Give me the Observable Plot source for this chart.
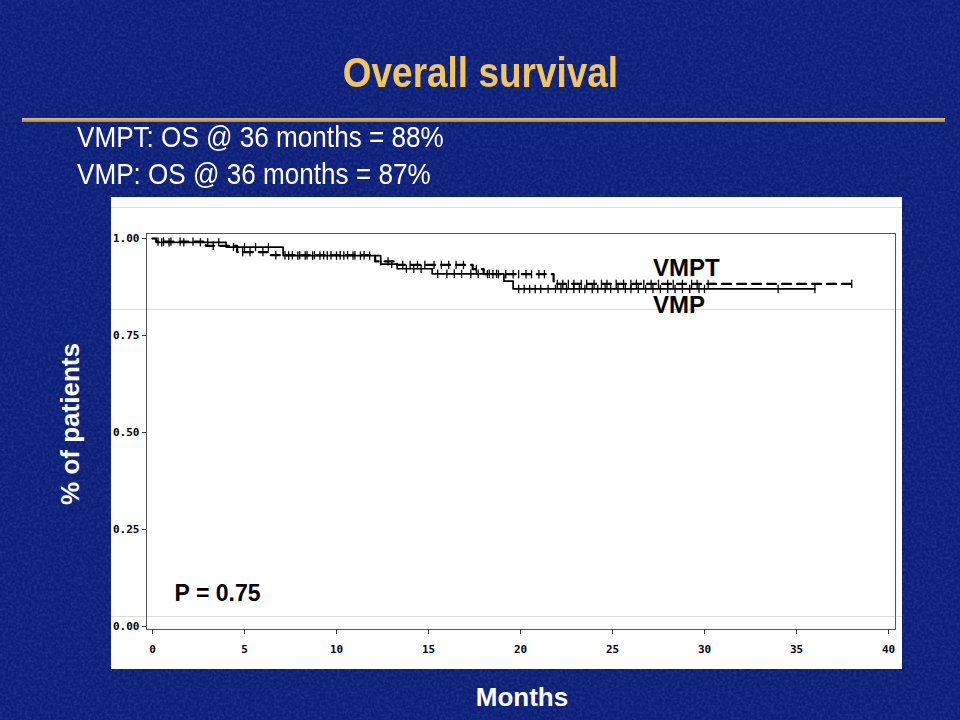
<!DOCTYPE html>
<html>
<head>
<meta charset="utf-8">
<script src="https://cdn.jsdelivr.net/npm/d3@7"></script>
<script src="https://cdn.jsdelivr.net/npm/@observablehq/plot@0.6"></script>
<style>
  html, body { margin: 0; padding: 0; }
  #page { position: relative; width: 960px; height: 720px; background: #0b1e78; overflow: hidden;
          font-family: "Liberation Sans", Arial, sans-serif; }
  #texture { position: absolute; left: 0; top: 0; width: 960px; height: 720px; }
  #title { position: absolute; left: 0; top: 52px; width: 960px; text-align: center; color: #f2c55e;
           font-size: 42px; font-weight: bold; line-height: 1; }
  #title span { display: inline-block; transform: scaleX(0.88); }
  #rule { position: absolute; left: 22px; top: 118px; width: 923px; height: 4px;
          background: linear-gradient(#e3c27a, #a8843c); }
  .sub { position: absolute; left: 77px; color: white; font-size: 29px; line-height: 1;
         transform: scaleX(0.9); transform-origin: left center; white-space: nowrap; }
  #panel { position: absolute; left: 111px; top: 197px; width: 791px; height: 472px; background: white; }
  .gline { position: absolute; left: 0; width: 791px; height: 1px; background: #dcdcdc; }
  #chart { position: absolute; left: 0; top: 0; }
  #ylab { position: absolute; left: 70px; top: 424px; color: white; font-size: 26px; font-weight: bold;
          line-height: 1; white-space: nowrap; transform: translate(-50%, -50%) rotate(-90deg); }
  #xlab { position: absolute; left: 522px; top: 684px; color: white; font-size: 26px; font-weight: bold;
          line-height: 1; transform: translateX(-50%); white-space: nowrap; }
</style>
</head>
<body>
<div id="page">
  <svg id="texture" width="960" height="720">
    <filter id="noise"><feTurbulence type="fractalNoise" baseFrequency="0.35" numOctaves="2" seed="3"/>
      <feColorMatrix type="matrix" values="0 0 0 0 0.25  0 0 0 0 0.35  0 0 0 0 0.75  0 0 0 0.9 -0.3"/></filter>
    <rect width="960" height="720" filter="url(#noise)" opacity="0.35"/>
  </svg>
  <div id="title"><span>Overall survival</span></div>
  <div id="rule"></div>
  <div class="sub" style="top:123px">VMPT: OS @ 36 months = 88%</div>
  <div class="sub" style="top:160px">VMP: OS @ 36 months = 87%</div>
  <div id="panel">
    <div class="gline" style="top:10px"></div>
    <div class="gline" style="top:112px"></div>
    <div class="gline" style="top:419px"></div>
    <div id="chart"></div>
  </div>
  <div id="ylab">% of patients</div>
  <div id="xlab">Months</div>
</div>
<script>
// ---- data ----
const xTicks = [0, 5, 10, 15, 20, 25, 30, 35, 40];
const yTicks = [0, 0.25, 0.5, 0.75, 1];

// Kaplan-Meier step points (months, survival)
const vmptTimes = [0, 0.2, 2.9, 4.6, 6.4, 12.1, 13.3, 17.4, 18.0, 21.8, 38.0];
const vmptSurv  = [1.000, 0.992, 0.981, 0.965, 0.957, 0.941, 0.932, 0.921, 0.908, 0.883, 0.883];
const vmpTimes  = [0, 0.2, 4.0, 7.1, 12.4, 13.3, 15.2, 19.1, 19.6, 36.0];
const vmpSurv   = [1.000, 0.990, 0.978, 0.956, 0.934, 0.922, 0.909, 0.890, 0.870, 0.870];

// censoring marks (months)
const vmptCensor = [0.3, 0.6, 1.0, 1.5, 2.2, 3.3, 4.9, 5.3, 6.0, 6.7, 7.2, 7.6, 8.0, 8.4, 8.8, 9.3, 9.7,
  10.2, 10.6, 11.0, 11.5, 12.4, 12.8, 13.6, 14.0, 14.4, 14.8, 15.3, 15.7, 16.1, 16.5, 16.9, 17.6, 18.2,
  18.5, 18.8, 19.2, 19.6, 19.9, 20.3, 20.6, 21.0, 21.3, 22.0, 22.3, 22.6, 22.9, 23.3, 23.6, 24.0, 24.4,
  24.7, 25.2, 25.6, 26.0, 26.3, 26.7, 27.1, 27.5, 28.0, 28.3, 28.8, 29.3, 29.6, 30.2, 38.0];
const vmpCensor = [0.5, 0.9, 1.7, 2.6, 3.0, 3.6, 4.4, 5.0, 5.6, 6.3, 7.4, 7.9, 8.3, 8.7, 9.1, 9.5, 10.0,
  10.4, 10.9, 11.3, 11.8, 13.0, 13.8, 14.2, 14.6, 15.5, 16.0, 16.4, 16.8, 17.3, 17.7, 18.3, 18.7, 19.9,
  20.2, 20.5, 20.8, 21.1, 21.5, 21.9, 22.2, 22.5, 22.9, 23.2, 23.5, 23.9, 24.2, 24.6, 24.9, 25.3, 25.7,
  26.0, 26.4, 26.8, 27.2, 27.6, 28.0, 28.4, 28.8, 29.2, 29.7, 30.0, 34.0, 36.0];

const groupLabels = ["VMPT", "VMP"];
const pText = "P = 0.75";

// ---- build tables ----
function rows(times, surv, g) { return times.map((t, i) => ({t, s: surv[i], g})); }
function survAt(times, surv, t) { let s = surv[0]; for (let i = 0; i < times.length; i++) if (times[i] <= t) s = surv[i]; return s; }
const vmptRows = rows(vmptTimes, vmptSurv, "VMPT");
const vmpRows = rows(vmpTimes, vmpSurv, "VMP");
const censorRows = [
  ...vmptCensor.map(t => ({t, s: survAt(vmptTimes, vmptSurv, t)})),
  ...vmpCensor.map(t => ({t, s: survAt(vmpTimes, vmpSurv, t)}))
];
const tickSymbol = { draw(ctx, size) { const r = Math.sqrt(size / Math.PI); ctx.moveTo(0, -r); ctx.lineTo(0, r); } };

const labelFont = { fontFamily: "Liberation Sans, Arial, sans-serif", fontWeight: "bold", fill: "black" };

const chart = Plot.plot({
  width: 791, height: 472,
  marginLeft: 35, marginTop: 36, marginRight: 7, marginBottom: 40,
  style: { background: "none", fontFamily: "DejaVu Sans Mono, monospace", fontSize: "11px", fontWeight: "bold", color: "black" },
  x: { domain: [0, 40], insetLeft: 6, insetRight: 7 },
  y: { domain: [0, 1], insetTop: 5, insetBottom: 3 },
  marks: [
    Plot.frame({ stroke: "#555", strokeWidth: 1 }),
    Plot.axisX({ ticks: xTicks, tickSize: 5, tickPadding: 11, tickFormat: d => String(d), label: null, stroke: "#333" }),
    Plot.axisY({ ticks: yTicks, tickSize: 4, tickPadding: 3, tickFormat: d => d.toFixed(2), label: null, stroke: "#333" }),
    Plot.line(vmpRows, { x: "t", y: "s", curve: "step-after", stroke: "black", strokeWidth: 1.7 }),
    Plot.line(vmptRows, { x: "t", y: "s", curve: "step-after", stroke: "black", strokeWidth: 2.2, strokeDasharray: "9,6" }),
    Plot.dot(censorRows, { x: "t", y: "s", symbol: tickSymbol, r: 4.2, stroke: "black", strokeWidth: 1.3, fill: "none" }),
    Plot.text([groupLabels[0]], { x: 27.2, y: 0.923, text: d => d, textAnchor: "start", fontSize: 24, ...labelFont }),
    Plot.text([groupLabels[1]], { x: 27.2, y: 0.828, text: d => d, textAnchor: "start", fontSize: 24, ...labelFont }),
    Plot.text([pText], { x: 1.2, y: 0.085, text: d => d, textAnchor: "start", fontSize: 23, ...labelFont })
  ]
});
document.getElementById("chart").appendChild(chart);
</script>
</body>
</html>
